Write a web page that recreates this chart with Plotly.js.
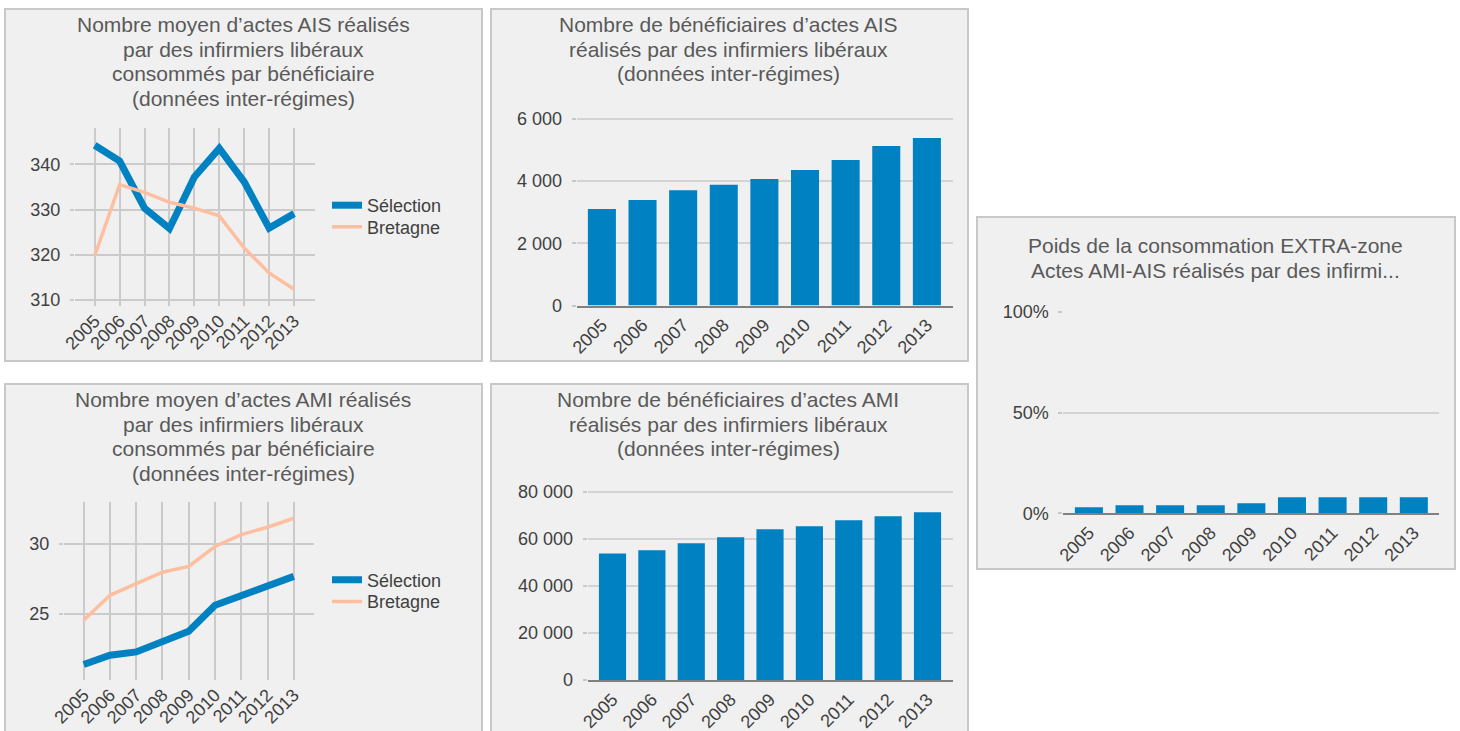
<!DOCTYPE html>
<html><head><meta charset="utf-8">
<script src="https://cdn.plot.ly/plotly-3.0.1.min.js"></script>
<style>html,body{margin:0;padding:0;background:#fff}#chart{width:1460px;height:731px}</style>
</head><body><div id="chart"></div>
<script>
// ---- data ----
const years = ['2005','2006','2007','2008','2009','2010','2011','2012','2013'];
const seriesNames = ['Sélection','Bretagne'];
const aisMoyenSelection = [344.2, 340.7, 330.3, 325.8, 337.2, 343.5, 336.1, 325.9, 329.1];
const aisMoyenBretagne  = [319.8, 335.5, 333.8, 331.6, 330.3, 328.6, 321.5, 316.0, 312.4];
const amiMoyenSelection = [21.4, 22.06, 22.3, 23.0, 23.77, 25.62, 26.33, 26.99, 27.68];
const amiMoyenBretagne  = [24.55, 26.33, 27.16, 27.98, 28.39, 29.81, 30.66, 31.18, 31.82];
const aisBeneficiaires  = [3100, 3390, 3710, 3880, 4065, 4355, 4680, 5130, 5390];
const amiBeneficiaires  = [53750, 55170, 58150, 60700, 64110, 65390, 67940, 69640, 71340];
const poidsExtraZone    = [0.03, 0.04, 0.04, 0.04, 0.05, 0.08, 0.08, 0.08, 0.08];
const titleAisMoyen = ['Nombre moyen d’actes AIS réalisés', 'par des infirmiers libéraux', 'consommés par bénéficiaire', '(données inter-régimes)'];
const titleAmiMoyen = ['Nombre moyen d’actes AMI réalisés', 'par des infirmiers libéraux', 'consommés par bénéficiaire', '(données inter-régimes)'];
const titleAisBenef = ['Nombre de bénéficiaires d’actes AIS', 'réalisés par des infirmiers libéraux', '(données inter-régimes)'];
const titleAmiBenef = ['Nombre de bénéficiaires d’actes AMI', 'réalisés par des infirmiers libéraux', '(données inter-régimes)'];
const titlePoids = ['Poids de la consommation EXTRA-zone', 'Actes AMI-AIS réalisés par des infirmi...'];

// ---- layout helpers ----
const W = 1460, H = 731;
const xd = (a, b) => [a / W, b / W];
const yd = (top, bottom) => [(H - bottom) / H, (H - top) / H];
const px = x => x / W;
const py = y => (H - y) / H;

const BLUE = '#0081c1', PEACH = '#fdbf9f';
const FONT = 'Liberation Sans, Arial, sans-serif';
const tickFont = {family: FONT, size: 18, color: '#404040'};

function lineX(domain, range, anchor) {
  return {type: 'category', domain, range, anchor, showgrid: true, gridcolor: '#cbcbcb', gridwidth: 2,
    ticks: '', tickangle: -45, tickfont: tickFont, showline: false, zeroline: false, fixedrange: true};
}
function lineY(domain, range, tickvals, anchor) {
  return {domain, range, anchor, tickvals, showgrid: true, gridcolor: '#cbcbcb', gridwidth: 2,
    ticks: 'outside', ticklen: 4, tickwidth: 2, tickcolor: '#cbcbcb', tickfont: tickFont,
    ticklabelstandoff: 6, zeroline: false, showline: false, fixedrange: true};
}
function barX(domain, range, anchor) {
  return {type: 'category', domain, range, anchor, showgrid: false, ticks: '', tickangle: -45,
    tickfont: tickFont, showline: true, linecolor: '#808080', linewidth: 2, zeroline: false, fixedrange: true};
}
function barY(domain, range, tickvals, anchor, fmt) {
  return {domain, range, anchor, tickvals, tickformat: fmt, showgrid: true, gridcolor: '#d3d3d3', gridwidth: 2,
    ticks: 'outside', ticklen: 4, tickwidth: 2, tickcolor: '#c8c8c8', tickfont: tickFont,
    ticklabelstandoff: 6, zeroline: false, showline: false, fixedrange: true};
}

const traces = [
  {type: 'scatter', mode: 'lines', x: years, y: aisMoyenSelection, name: seriesNames[0],
   line: {color: BLUE, width: 7}, xaxis: 'x', yaxis: 'y', legend: 'legend'},
  {type: 'scatter', mode: 'lines', x: years, y: aisMoyenBretagne, name: seriesNames[1],
   line: {color: PEACH, width: 3.5}, xaxis: 'x', yaxis: 'y', legend: 'legend3'},
  {type: 'scatter', mode: 'lines', x: years, y: amiMoyenSelection, name: seriesNames[0],
   line: {color: BLUE, width: 7}, xaxis: 'x2', yaxis: 'y2', legend: 'legend2'},
  {type: 'scatter', mode: 'lines', x: years, y: amiMoyenBretagne, name: seriesNames[1],
   line: {color: PEACH, width: 3.5}, xaxis: 'x2', yaxis: 'y2', legend: 'legend4'},
  {type: 'bar', x: years, y: aisBeneficiaires, marker: {color: BLUE}, xaxis: 'x3', yaxis: 'y3', showlegend: false},
  {type: 'bar', x: years, y: amiBeneficiaires, marker: {color: BLUE}, xaxis: 'x4', yaxis: 'y4', showlegend: false},
  {type: 'bar', x: years, y: poidsExtraZone, marker: {color: BLUE}, xaxis: 'x5', yaxis: 'y5', showlegend: false}
];

function panel(x0, y0, x1, y1) {
  return {type: 'rect', xref: 'paper', yref: 'paper', x0: px(x0), x1: px(x1), y0: py(y1), y1: py(y0),
    fillcolor: '#f0f0f0', line: {color: '#c8c8c8', width: 2}, layer: 'below'};
}
function ttl(lines, x, y0, step) {
  return lines.map((text, i) => ({text, xref: 'paper', yref: 'paper', x: px(x), y: py(y0 + i * step),
    xanchor: 'center', yanchor: 'middle', showarrow: false,
    font: {family: FONT, size: 21, color: '#595959'}}));
}
function leg(x, y) {
  return {x: px(x), y: py(y), xanchor: 'left', yanchor: 'middle', bgcolor: 'rgba(0,0,0,0)',
    font: {family: FONT, size: 18, color: '#404040'}, itemwidth: 30};
}

const layout = {
  width: W, height: H, margin: {l: 0, r: 0, t: 0, b: 0},
  paper_bgcolor: '#ffffff', plot_bgcolor: '#ffffff',
  separators: ', ', bargap: 0.31, showlegend: true, font: {family: FONT},
  xaxis:  lineX(xd(75, 315), [-0.79, 8.84], 'y'),
  yaxis:  lineY(yd(128, 306), [308.7, 348], [310, 320, 330, 340], 'x'),
  xaxis2: lineX(xd(64, 314), [-0.75, 8.77], 'y2'),
  yaxis2: lineY(yd(501.7, 680), [20.3, 33], [25, 30], 'x2'),
  xaxis3: barX(xd(576.7, 953.3), [-0.62, 8.65], 'y3'),
  yaxis3: barY(yd(104, 305.5), [0, 6480], [0, 2000, 4000, 6000], 'x3', ',d'),
  xaxis4: barX(xd(587.7, 953.3), [-0.63, 8.655], 'y4'),
  yaxis4: barY(yd(477.7, 680), [0, 86000], [0, 20000, 40000, 60000, 80000], 'x4', ',d'),
  xaxis5: barX(xd(1063.3, 1439), [-0.63, 8.62], 'y5'),
  yaxis5: barY(yd(311.7, 513.3), [0, 1], [0, 0.5, 1], 'x5', '.0%'),
  legend:  leg(327, 205.5),
  legend3: leg(327, 227),
  legend2: leg(327, 580),
  legend4: leg(327, 601.7),
  shapes: [panel(5, 9, 482, 361), panel(5, 384, 482, 745), panel(491, 9, 968, 361),
           panel(491, 384, 968, 745), panel(977, 217, 1455, 569)],
  annotations: [].concat(
    ttl(titleAisMoyen, 243, 24.5, 24.6), ttl(titleAmiMoyen, 243, 399.5, 24.6),
    ttl(titleAisBenef, 728, 24.5, 24.6), ttl(titleAmiBenef, 728, 399.5, 24.6),
    ttl(titlePoids, 1215, 245, 25))
};
Plotly.newPlot('chart', traces, layout, {displayModeBar: false, staticPlot: true});
</script></body></html>
